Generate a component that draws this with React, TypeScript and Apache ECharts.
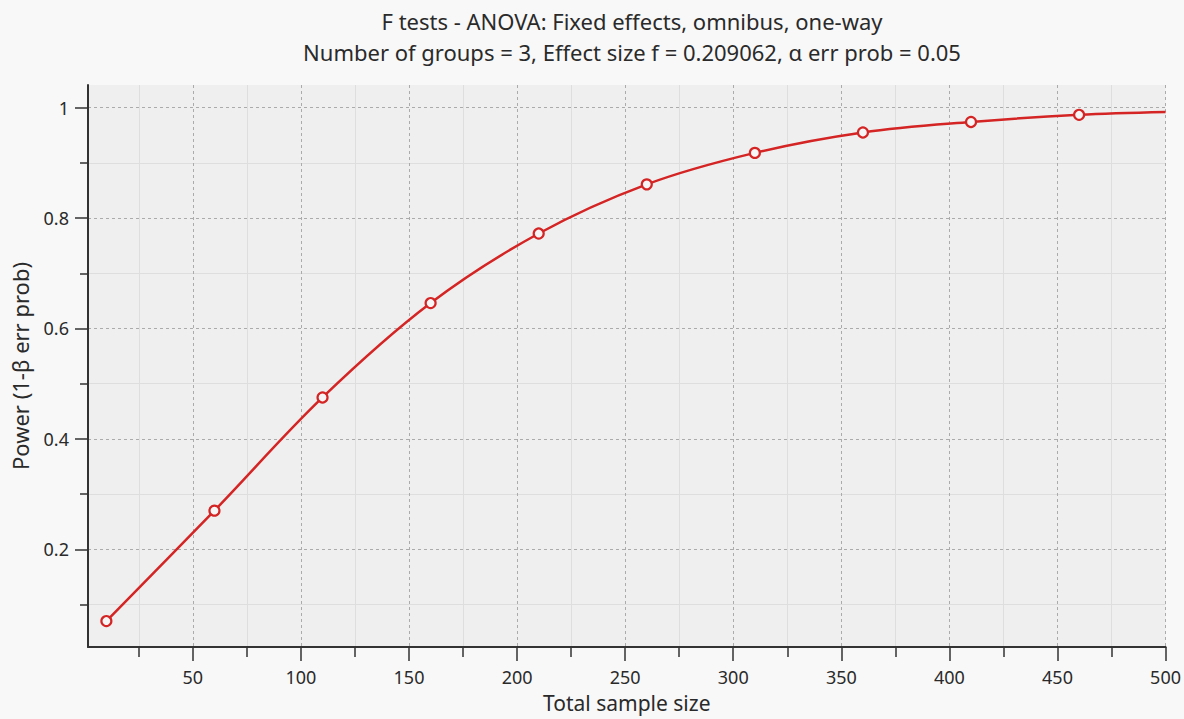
import React, { useEffect, useRef } from "react";
import * as echarts from "echarts";

const titleText = "F tests - ANOVA: Fixed effects, omnibus, one-way";
const subtitleText = "Number of groups = 3, Effect size f = 0.209062, α err prob = 0.05";
const xAxisName = "Total sample size";
const yAxisName = "Power (1-β err prob)";

const sampleSizes = [10, 60, 110, 160, 210, 260, 310, 360, 410, 460, 500];
const powerValues = [0.07, 0.27, 0.475, 0.646, 0.772, 0.861, 0.918, 0.955, 0.974, 0.987, 0.992];
const markedPoints = [true, true, true, true, true, true, true, true, true, true, false];

const xMajorTicks = [50, 100, 150, 200, 250, 300, 350, 400, 450, 500];
const xMinorTicks = [25, 75, 125, 175, 225, 275, 325, 375, 425, 475];
const yMajorTicks = [0.2, 0.4, 0.6, 0.8, 1];
const yMinorTicks = [0.1, 0.3, 0.5, 0.7, 0.9];

const X_MIN = 1.5;
const X_MAX = 500;
const Y_MIN = 0.023;
const Y_MAX = 1.041;

const FONT = "Noto Sans";
const TEXT = "#2a2a2a";
const RED = "#d42424";

export default function App() {
  const ref = useRef<HTMLDivElement>(null);
  useEffect(() => {
    if (!ref.current) return;
    const chart = echarts.init(ref.current, undefined, { renderer: "svg" });
    const data = sampleSizes.map((x, i) =>
      markedPoints[i] ? [x, powerValues[i]] : { value: [x, powerValues[i]], symbol: "none" }
    );
    chart.setOption({
      animation: false,
      backgroundColor: "#f8f8f8",
      textStyle: { fontFamily: FONT },
      title: [
        {
          text: titleText,
          left: 627,
          textAlign: "center",
          top: 5,
          textStyle: { fontFamily: FONT, fontSize: 22, fontWeight: "normal", color: TEXT },
        },
        {
          text: subtitleText,
          left: 627,
          textAlign: "center",
          top: 36,
          textStyle: { fontFamily: FONT, fontSize: 22, fontWeight: "normal", color: TEXT },
        },
      ],
      grid: {
        left: 88,
        right: 18,
        top: 85,
        bottom: 72,
        show: true,
        backgroundColor: "#efefef",
        borderWidth: 0,
      },
      xAxis: [
        {
          type: "value",
          min: X_MIN,
          max: X_MAX,
          position: "bottom",
          name: xAxisName,
          nameLocation: "middle",
          nameGap: 45,
          nameTextStyle: { fontFamily: FONT, fontSize: 21, color: TEXT },
          axisLine: { show: true, onZero: false, lineStyle: { color: "#333", width: 2 } },
          axisTick: { show: true, customValues: xMajorTicks, length: 14, lineStyle: { color: "#333", width: 1.5 } },
          axisLabel: { show: true, customValues: xMajorTicks, margin: 21, fontSize: 18, color: TEXT, fontFamily: FONT },
          splitLine: { show: true, lineStyle: { color: "#ababab", type: [3, 3], width: 1 } },
        },
        {
          type: "value",
          min: X_MIN,
          max: X_MAX,
          position: "bottom",
          axisLine: { show: false, onZero: false },
          axisTick: { show: true, customValues: xMinorTicks, length: 10, lineStyle: { color: "#333", width: 1.5 } },
          axisLabel: { show: false },
          splitLine: { show: true, lineStyle: { color: "#dedede", type: "solid", width: 1 } },
        },
      ],
      yAxis: [
        {
          type: "value",
          min: Y_MIN,
          max: Y_MAX,
          position: "left",
          name: yAxisName,
          nameLocation: "middle",
          nameGap: 57,
          nameTextStyle: { fontFamily: FONT, fontSize: 22, color: TEXT },
          axisLine: { show: true, onZero: false, lineStyle: { color: "#333", width: 2 } },
          axisTick: { show: true, customValues: yMajorTicks, length: 13, lineStyle: { color: "#333", width: 1.5 } },
          axisLabel: { show: true, customValues: yMajorTicks, margin: 19, fontSize: 18, color: TEXT, fontFamily: FONT },
          splitLine: { show: true, lineStyle: { color: "#ababab", type: [3, 3], width: 1 } },
        },
        {
          type: "value",
          min: Y_MIN,
          max: Y_MAX,
          position: "left",
          axisLine: { show: false, onZero: false },
          axisTick: { show: true, customValues: yMinorTicks, length: 8, lineStyle: { color: "#333", width: 1.5 } },
          axisLabel: { show: false },
          splitLine: { show: true, lineStyle: { color: "#dedede", type: "solid", width: 1 } },
        },
      ],
      series: [
        {
          type: "line",
          xAxisIndex: 0,
          yAxisIndex: 0,
          data,
          smooth: 0.35,
          showAllSymbol: true,
          symbol: "circle",
          symbolSize: 10,
          lineStyle: { color: RED, width: 2.5 },
          itemStyle: { color: "#f6f6f6", borderColor: RED, borderWidth: 2.2 },
          z: 5,
        },
      ],
    });
    return () => chart.dispose();
  }, []);
  return (
    <div
      ref={ref}
      style={{ position: "absolute", left: 0, top: 0, width: 1184, height: 719 }}
    />
  );
}
